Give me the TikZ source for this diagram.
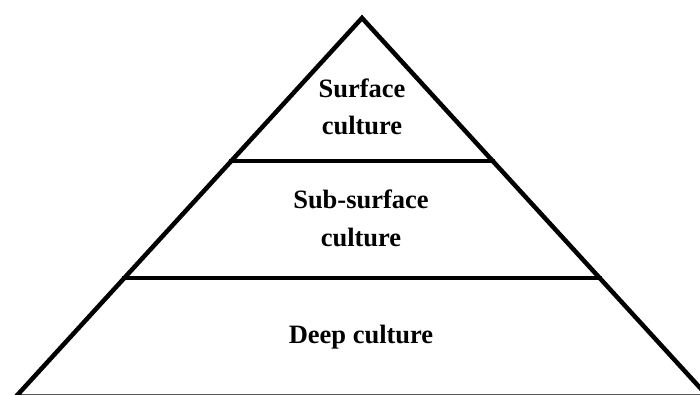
\documentclass[tikz,border=0pt]{standalone}
\usepackage{fontspec}
\setmainfont{Liberation Serif}
\usetikzlibrary{calc}
\begin{document}
\begin{tikzpicture}[x=1pt,y=-1pt,
  edge/.style={line width=4.5pt,line join=miter},
  tier/.style={line width=4.5pt},
  label/.style={font=\fontsize{26.5}{32}\selectfont\bfseries,anchor=base,inner sep=0pt}]
  \useasboundingbox (0,0) rectangle (700,394);
  \clip (0,0) rectangle (700,394);
  % pyramid outline
  \coordinate (apex) at (362,18);
  \coordinate (bl) at (16,396.5);
  \coordinate (br) at (708,396.5);
  \draw[edge] (bl) -- (apex) -- (br) -- cycle;
  % dividing lines between the layers
  \coordinate (l1) at ($(apex)!143/378.5!(bl)$);
  \coordinate (r1) at ($(apex)!143/378.5!(br)$);
  \coordinate (l2) at ($(apex)!260/378.5!(bl)$);
  \coordinate (r2) at ($(apex)!260/378.5!(br)$);
  \draw[tier] ([xshift=-2pt]l1) -- ([xshift=2pt]r1);
  \draw[tier] ([xshift=-2pt]l2) -- ([xshift=2pt]r2);
  % layer labels
  \node[label] (s1) at (362,97.5) {Surface};
  \node[label] (s2) at (362,134) {culture};
  \node[label] (m1) at (361,208) {Sub-surface};
  \node[label] (m2) at (361,246) {culture};
  \node[label] (d1) at (361,343) {Deep culture};
\end{tikzpicture}
\end{document}
